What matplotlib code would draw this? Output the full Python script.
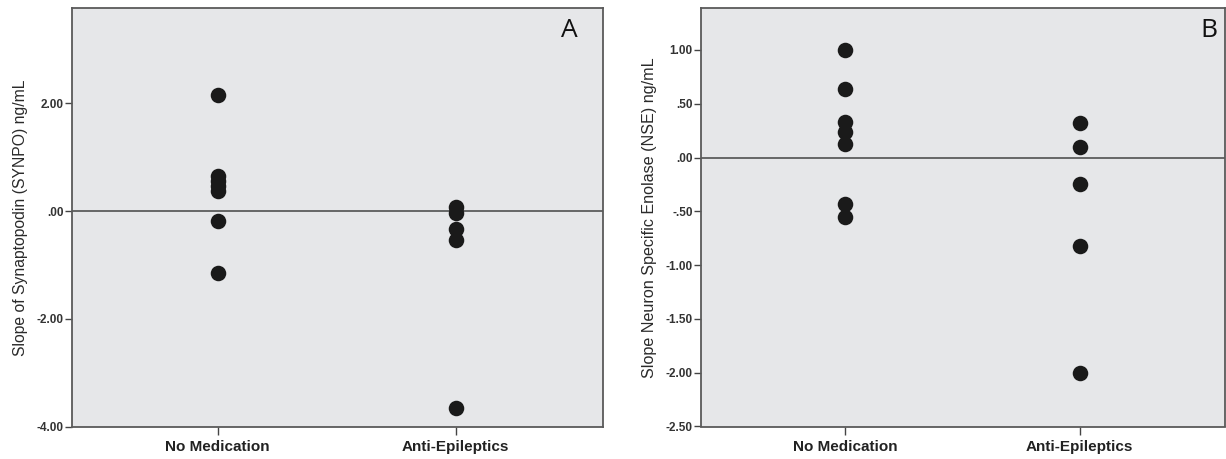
import matplotlib
matplotlib.use("Agg")
import matplotlib.pyplot as plt

categories = ["No Medication", "Anti-Epileptics"]
synpo_nomed = [2.16, 0.66, 0.55, 0.46, 0.38, -0.19, -1.15]
synpo_aed = [0.07, -0.04, -0.34, -0.53, -3.66]
nse_nomed = [1.00, 0.64, 0.33, 0.24, 0.13, -0.43, -0.55]
nse_aed = [0.32, 0.10, -0.25, -0.82, -2.00]
synpo_ticks = [2.0, 0.0, -2.0, -4.0]
nse_ticks = [1.0, 0.5, 0.0, -0.5, -1.0, -1.5, -2.0, -2.5]

plt.rcParams['font.family'] = ['Liberation Sans', 'DejaVu Sans']

def spss_fmt(v):
    s = f"{v:.2f}"
    if s.startswith("0."):
        s = s[1:]
    elif s.startswith("-0."):
        s = "-" + s[2:]
    return s

fig = plt.figure(figsize=(12.26, 4.59), dpi=100)
W, H = 1226, 459

def make_ax(left, right, top, bottom):
    return fig.add_axes([left / W, 1 - bottom / H, (right - left) / W, (bottom - top) / H])

axA = make_ax(72, 603, 8, 426.5)
axB = make_ax(701, 1225, 8, 426.5)

panels = [
    (axA, synpo_nomed, synpo_aed, synpo_ticks, (-4.0, 3.77), "Slope of Synaptopodin (SYNPO) ng/mL", "A", 0.953, 11.3),
    (axB, nse_nomed, nse_aed, nse_ticks, (-2.5, 1.39), "Slope Neuron Specific Enolase (NSE) ng/mL", "B", 0.985, 11.6),
]

for ax, nomed, aed, ticks, ylim, ylabel, letter, lx, yfs in panels:
    ax.set_facecolor("#e6e7e9")
    ax.scatter([0] * len(nomed), nomed, s=125, color="#1a1a1a", zorder=3, linewidths=0)
    ax.scatter([1] * len(aed), aed, s=125, color="#1a1a1a", zorder=3, linewidths=0)
    ax.axhline(0, color="#444444", lw=1.1, zorder=2)
    ax.set_xlim(-0.613, 1.62)
    ax.set_ylim(*ylim)
    ax.set_xticks([0, 1])
    ax.set_xticklabels(categories, fontsize=11, fontweight="bold", color="#222222")
    ax.set_yticks(ticks)
    ax.set_yticklabels([spss_fmt(t) for t in ticks], fontsize=8.5, fontweight="bold", color="#333333")
    ax.tick_params(axis="y", length=5, width=1, color="#444444", pad=1)
    ax.tick_params(axis="x", length=6, width=1, color="#444444", pad=4)
    for sp in ax.spines.values():
        sp.set_color("#5a5a5a")
        sp.set_linewidth(1.3)
    ax.set_ylabel(ylabel, fontsize=yfs, color="#2a2a2a", labelpad=6)
    ax.text(lx, 0.975, letter, transform=ax.transAxes, ha="right", va="top",
            fontsize=19, color="#111111", family=["Open Sans", "DejaVu Sans"])

fig.savefig("out.png", dpi=100)
